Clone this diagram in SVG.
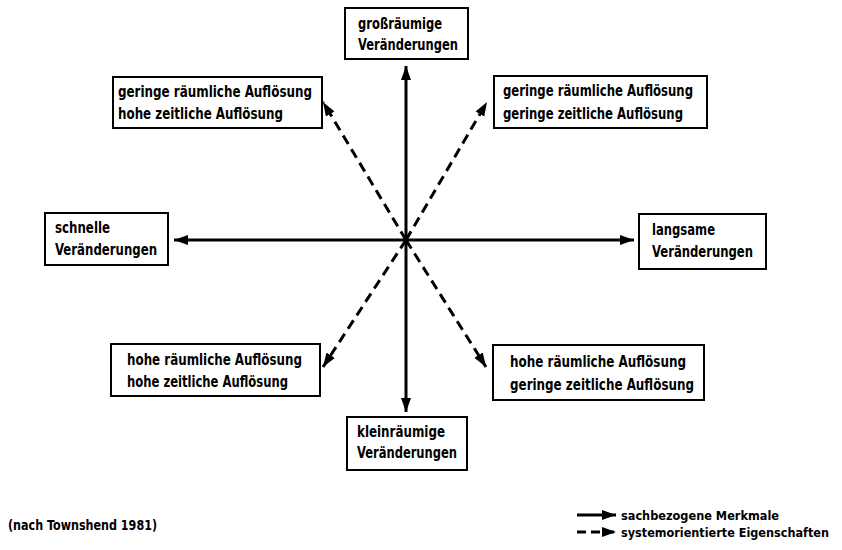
<svg xmlns="http://www.w3.org/2000/svg" width="842" height="550" viewBox="0 0 842 550">
<style>
text{font-family:"Liberation Sans Narrow","DejaVu Sans Condensed","Liberation Sans",sans-serif;font-weight:bold;font-size:16px;fill:#000}
.box{fill:#fff;stroke:#000;stroke-width:2}
.solid{stroke:#000;stroke-width:3;fill:none}
.dash{stroke:#000;stroke-width:3;fill:none;stroke-dasharray:10 6}
.small{font-size:14px}
.leg{font-size:12.5px}
</style>
<defs>
<marker id="ah" markerUnits="userSpaceOnUse" markerWidth="15" markerHeight="12" refX="14" refY="5" orient="auto" viewBox="0 0 15 10">
<path d="M0,0 L14,5 L0,10 Z" fill="#000"/>
</marker>
</defs>
<rect width="842" height="550" fill="#fff"/>
<g id="connectors">
<line class="solid" x1="406" y1="240" x2="406" y2="66" marker-end="url(#ah)"/>
<line class="solid" x1="406" y1="240" x2="406" y2="412" marker-end="url(#ah)"/>
<line class="solid" x1="406" y1="240" x2="174" y2="240" marker-end="url(#ah)"/>
<line class="solid" x1="406" y1="240" x2="634" y2="240" marker-end="url(#ah)"/>
<line class="dash" x1="406" y1="240" x2="323" y2="102" marker-end="url(#ah)"/>
<line class="dash" x1="406" y1="240" x2="487" y2="102" marker-end="url(#ah)"/>
<line class="dash" x1="406" y1="240" x2="323" y2="367" marker-end="url(#ah)"/>
<line class="dash" x1="406" y1="240" x2="486" y2="367" marker-end="url(#ah)"/>
</g>
<g id="top">
<rect class="box" x="345" y="8" width="123" height="51"/>
<text x="358" y="29" textLength="84" lengthAdjust="spacingAndGlyphs">großräumige</text>
<text x="358" y="50" textLength="100" lengthAdjust="spacingAndGlyphs">Veränderungen</text>
</g>
<g id="topleft">
<rect class="box" x="113" y="77" width="209" height="51"/>
<text x="118" y="97" textLength="194" lengthAdjust="spacingAndGlyphs">geringe räumliche Auflösung</text>
<text x="118" y="119" textLength="165" lengthAdjust="spacingAndGlyphs">hohe zeitliche Auflösung</text>
</g>
<g id="topright">
<rect class="box" x="494" y="76" width="213" height="52"/>
<text x="503" y="96" textLength="190" lengthAdjust="spacingAndGlyphs">geringe räumliche Auflösung</text>
<text x="503" y="119" textLength="180" lengthAdjust="spacingAndGlyphs">geringe zeitliche Auflösung</text>
</g>
<g id="left">
<rect class="box" x="45" y="213" width="123" height="52"/>
<text x="55" y="233" textLength="55" lengthAdjust="spacingAndGlyphs">schnelle</text>
<text x="55" y="255" textLength="102" lengthAdjust="spacingAndGlyphs">Veränderungen</text>
</g>
<g id="right">
<rect class="box" x="639" y="214" width="127" height="55"/>
<text x="652" y="235" textLength="63" lengthAdjust="spacingAndGlyphs">langsame</text>
<text x="652" y="257" textLength="101" lengthAdjust="spacingAndGlyphs">Veränderungen</text>
</g>
<g id="bottomleft">
<rect class="box" x="111" y="344" width="209" height="52"/>
<text x="127" y="365" textLength="175" lengthAdjust="spacingAndGlyphs">hohe räumliche Auflösung</text>
<text x="127" y="387" textLength="161" lengthAdjust="spacingAndGlyphs">hohe zeitliche Auflösung</text>
</g>
<g id="bottomright">
<rect class="box" x="493" y="345" width="211" height="55"/>
<text x="510" y="367" textLength="176" lengthAdjust="spacingAndGlyphs">hohe räumliche Auflösung</text>
<text x="510" y="390" textLength="184" lengthAdjust="spacingAndGlyphs">geringe zeitliche Auflösung</text>
</g>
<g id="bottom">
<rect class="box" x="347" y="417" width="120" height="53"/>
<text x="357" y="437" textLength="88" lengthAdjust="spacingAndGlyphs">kleinräumige</text>
<text x="357" y="458" textLength="100" lengthAdjust="spacingAndGlyphs">Veränderungen</text>
</g>
<g id="footnote">
<text class="small" x="8" y="530" textLength="149" lengthAdjust="spacingAndGlyphs">(nach Townshend 1981)</text>
</g>
<g id="legend">
<line class="solid" x1="577" y1="515" x2="616" y2="515" marker-end="url(#ah)"/>
<line class="solid" x1="577" y1="532" x2="616" y2="532" style="stroke-dasharray:9 5" marker-end="url(#ah)"/>
<text class="leg" x="621" y="520" textLength="158" lengthAdjust="spacingAndGlyphs">sachbezogene Merkmale</text>
<text class="leg" x="621" y="537" textLength="208" lengthAdjust="spacingAndGlyphs">systemorientierte Eigenschaften</text>
</g>
</svg>
